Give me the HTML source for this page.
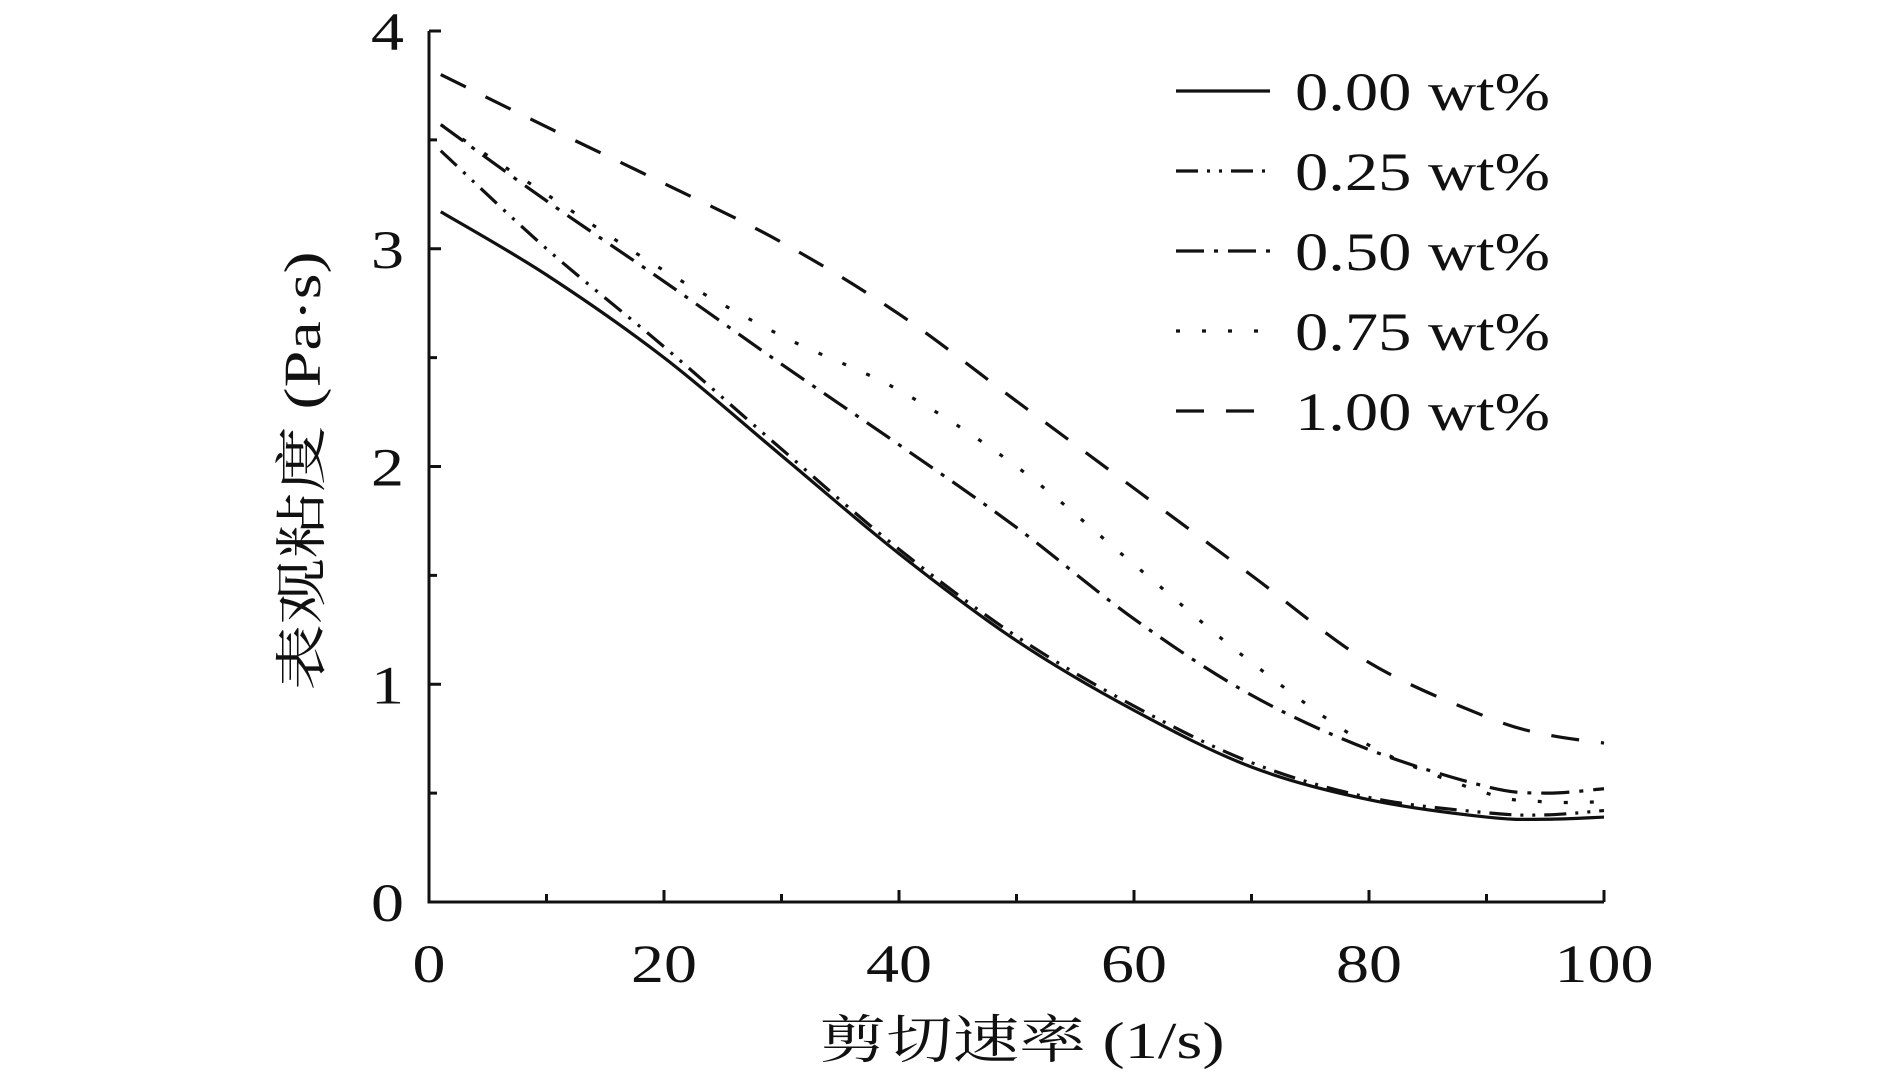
<!DOCTYPE html>
<html><head><meta charset="utf-8"><style>
html,body{margin:0;padding:0;background:#fff;}
svg{display:block;}
text{font-family:"Liberation Serif","Noto Serif CJK SC",serif;fill:#111;}
</style></head><body>
<svg id="chart" width="1890" height="1080" viewBox="0 0 1890 1080">
<g id="axes"></g>
<g id="series"></g>
<g id="legend"></g>
<text x="1022" y="1058" text-anchor="middle" font-size="52" textLength="405" lengthAdjust="spacingAndGlyphs">剪切速率 (1/s)</text>
<text transform="translate(320,471) rotate(-90)" text-anchor="middle" font-size="52" textLength="439" lengthAdjust="spacingAndGlyphs">表观粘度 (Pa·s)</text>
</svg>
<script>
const xs = [1,10,20,30,40,50,60,70,80,90,95,100];
const s000 = [3.17,2.88,2.5,2.05,1.6,1.2,0.88,0.62,0.47,0.39,0.38,0.39];
const s025 = [3.45,3.0,2.55,2.08,1.62,1.22,0.9,0.64,0.48,0.41,0.4,0.42];
const s050 = [3.57,3.22,2.85,2.47,2.1,1.72,1.3,0.95,0.7,0.53,0.5,0.52];
const s075 = [3.57,3.25,2.9,2.6,2.35,2.0,1.55,1.1,0.72,0.5,0.46,0.46];
const s100 = [3.8,3.56,3.3,3.03,2.7,2.3,1.9,1.5,1.1,0.85,0.77,0.73];
const labels = ["0.00 wt%","0.25 wt%","0.50 wt%","0.75 wt%","1.00 wt%"];
const xTicks = [0,20,40,60,80,100];
const yTicks = [0,1,2,3,4];
const NS="http://www.w3.org/2000/svg";
const X0=429,X1=1604,Y0=902,Y1=31;
const xs_=v=>X0+(X1-X0)*v/100;
const ys_=v=>Y0-(Y0-Y1)*v/4;
function mk(t,a,p){const e=document.createElementNS(NS,t);for(const k in a)e.setAttribute(k,a[k]);p.appendChild(e);return e;}
const axes=document.getElementById('axes');
let ax=mk('path',{d:`M${X0},${Y1} V${Y0} H${X1}`,stroke:'#111','stroke-width':3,fill:'none'},axes);


for(let v=0;v<=100;v+=10){const x=xs_(v);const t=mk('line',{x1:x,x2:x,y1:Y0,y2:Y0-(v%20==0?12:8),stroke:'#111','stroke-width':3},axes);

}
for(let v=0;v<=4;v+=0.5){const y=ys_(v);const t=mk('line',{x1:X0,x2:X0+(v%1==0?12:8),y1:y,y2:y,stroke:'#111','stroke-width':3},axes);

}
xTicks.forEach(v=>{const s=String(v);const t=mk('text',{x:xs_(v),y:982,'text-anchor':'middle','font-size':54,textLength:s.length*33,lengthAdjust:'spacingAndGlyphs'},axes);t.textContent=s;

});
yTicks.forEach(v=>{const t=mk('text',{x:404,y:ys_(v)+19,'text-anchor':'end','font-size':54,textLength:33,lengthAdjust:'spacingAndGlyphs'},axes);t.textContent=v;

});
function pathFor(arr){const p=xs.map((x,i)=>[xs_(x),ys_(arr[i])]);let d=`M${p[0][0]},${p[0][1]}`;
for(let i=0;i<p.length-1;i++){const a=p[i-1]||p[i],b=p[i],c=p[i+1],e=p[i+2]||c;
d+=` C${b[0]+(c[0]-a[0])/6},${b[1]+(c[1]-a[1])/6} ${c[0]-(e[0]-b[0])/6},${c[1]-(e[1]-b[1])/6} ${c[0]},${c[1]}`;}return d;}
const dashes=["","22,9,3,9,3,9","28,10,4,10","4,22","28,22"];
const data=[s000,s025,s050,s075,s100];
const names=['series-0-00','series-0-25','series-0-50','series-0-75','series-1-00'];
const ser=document.getElementById('series');
data.forEach((arr,i)=>{const l=mk('path',{d:pathFor(arr),fill:'none',stroke:'#111','stroke-width':3.2,'stroke-dasharray':dashes[i]},ser);

});
const leg=document.getElementById('legend');
labels.forEach((lb,i)=>{const y=91+i*80;const g=mk('g',{},leg);


mk('line',{x1:1176,x2:1270,y1:y,y2:y,stroke:'#111','stroke-width':3.2,'stroke-dasharray':dashes[i]},g);
const t=mk('text',{x:1295,y:y+19,'font-size':54,textLength:255,lengthAdjust:'spacingAndGlyphs'},g);t.textContent=lb;});
</script>
</body></html>
